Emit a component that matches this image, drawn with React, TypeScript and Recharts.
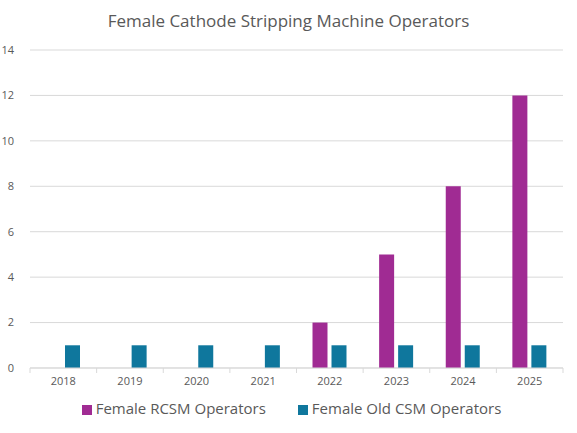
import React from "react";
import { BarChart, Bar, XAxis, YAxis, CartesianGrid, Legend } from "recharts";

const years = ["2018", "2019", "2020", "2021", "2022", "2023", "2024", "2025"];
const rcsmOperators = [0, 0, 0, 0, 2, 5, 8, 12];
const oldCsmOperators = [1, 1, 1, 1, 1, 1, 1, 1];
const yTicks = [0, 2, 4, 6, 8, 10, 12, 14];

const data = years.map((year, i) => ({
  year,
  rcsm: rcsmOperators[i] || null,
  old: oldCsmOperators[i],
}));

const W = 577;
const H = 433;
const M = { top: 50, right: 14, left: 0, bottom: 0 };
const Y_AXIS_W = 30;
const BAND = (W - M.left - M.right - Y_AXIS_W) / years.length;
const FONT = "'Open Sans', sans-serif";
const GREY = "#595959";
const LINE = "#d9d9d9";

const YearTick = (props: any) => {
  const { x, y, payload, index } = props;
  const left = x - BAND / 2;
  const right = x + BAND / 2;
  return (
    <g>
      <line x1={left} x2={left} y1={y - 8} y2={y - 3} stroke={LINE} />
      {index === years.length - 1 && (
        <line x1={right} x2={right} y1={y - 8} y2={y - 3} stroke={LINE} />
      )}
      <text x={x} y={y + 9} textAnchor="middle" fill={GREY} fontSize={11} fontFamily={FONT}>
        {payload.value}
      </text>
    </g>
  );
};

export default function App() {
  return (
    <div style={{ position: "absolute", left: 0, top: 0, width: W, height: H, background: "#fff", fontFamily: FONT }}>
      <div
        style={{
          position: "absolute",
          top: 9,
          left: 0,
          width: W,
          textAlign: "center",
          fontSize: 17,
          color: GREY,
        }}
      >
        Female Cathode Stripping Machine Operators
      </div>
      <BarChart width={W} height={H} data={data} margin={M} barSize={15} barGap={4}>
        <CartesianGrid vertical={false} stroke={LINE} />
        <XAxis
          dataKey="year"
          stroke={LINE}
          tickLine={false}
          tick={<YearTick />}
          height={30}
        />
        <YAxis
          width={Y_AXIS_W}
          domain={[0, 14]}
          ticks={yTicks}
          axisLine={false}
          tickLine={false}
          tick={{ fill: GREY, fontSize: 11, fontFamily: FONT }}
          tickMargin={10}
        />
        <Legend
          verticalAlign="bottom"
          iconType="square"
          iconSize={10}
          height={35}
          itemSorter={null}
          wrapperStyle={{ fontSize: 15, fontFamily: FONT, left: 15 }}
          formatter={(value, _entry, index) => (
            <span style={{ color: GREY, marginRight: index === 0 ? 22 : 0 }}>{value}</span>
          )}
        />
        <Bar dataKey="rcsm" name="Female RCSM Operators" fill="#A02B93" isAnimationActive={false} />
        <Bar dataKey="old" name="Female Old CSM Operators" fill="#0F779D" isAnimationActive={false} />
      </BarChart>
    </div>
  );
}
